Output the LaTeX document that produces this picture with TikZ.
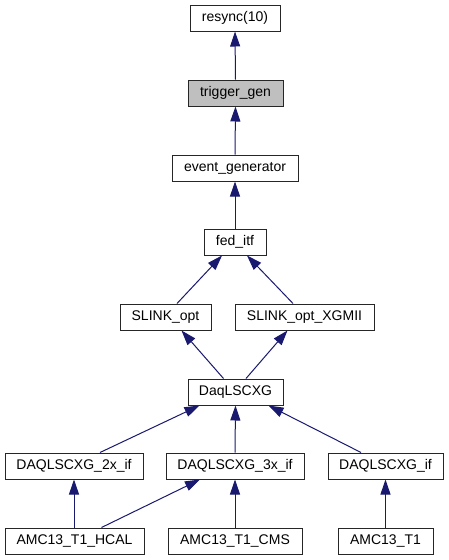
\documentclass[tikz,border=0pt]{standalone}
\usepackage{fontspec}
\setmainfont{Liberation Sans}
\usetikzlibrary{arrows.meta}
\definecolor{edgeblue}{HTML}{191970}
\definecolor{boxgray}{HTML}{BFBFBF}
\tikzset{
  cls/.style={draw=black!85, line width=1pt, fill=white, minimum height=26pt, inner sep=0pt,
    font=\fontsize{14}{16}\selectfont, text height=10pt, text depth=3pt},
  cur/.style={cls, fill=boxgray},
  inh/.style={draw=edgeblue, line width=1pt,
    {Triangle[length=15pt,width=10pt,fill=edgeblue]}-},
}
\begin{document}
\begin{tikzpicture}[x=1pt,y=-1pt]
\useasboundingbox (0,0) rectangle (449,560);
\node[cls, minimum width=90pt] (resync) at (235,18) {resync(10)};
\node[cur, minimum width=95pt] (trig) at (235.5,93) {trigger\_gen};
\node[cls, minimum width=126pt] (evg) at (235,168) {event\_generator};
\node[cls, minimum width=62pt] (fed) at (235,242) {fed\_itf};
\node[cls, minimum width=91pt] (sopt) at (165.5,317) {SLINK\_opt};
\node[cls, minimum width=139pt] (sxg) at (304.5,317) {SLINK\_opt\_XGMII};
\node[cls, minimum width=95pt] (daq) at (235.5,392) {DaqLSCXG};
\node[cls, minimum width=138pt] (d2x) at (74,466) {DAQLSCXG\_2x\_if};
\node[cls, minimum width=138pt] (d3x) at (235,466) {DAQLSCXG\_3x\_if};
\node[cls, minimum width=115pt] (dif) at (385.5,466) {DAQLSCXG\_if};
\node[cls, minimum width=139pt] (hcal) at (74.5,541) {AMC13\_T1\_HCAL};
\node[cls, minimum width=134pt] (cms) at (235,541) {AMC13\_T1\_CMS};
\node[cls, minimum width=95pt] (t1) at (385.5,541) {AMC13\_T1};

\draw[inh] (resync.south) -- (trig.north);
\draw[inh] (trig.south) -- (evg.north);
\draw[inh] (evg.south) -- (fed.north);
\draw[inh] ([xshift=-13pt]fed.south) -- ([xshift=11.5pt]sopt.north);
\draw[inh] ([xshift=12pt]fed.south) -- ([xshift=-11.5pt]sxg.north);
\draw[inh] ([xshift=16pt]sopt.south) -- ([xshift=-12pt]daq.north);
\draw[inh] ([xshift=-17pt]sxg.south) -- ([xshift=10.5pt]daq.north);
\draw[inh] ([xshift=-36pt]daq.south) -- ([xshift=26pt]d2x.north);
\draw[inh] (daq.south) -- (d3x.north);
\draw[inh] ([xshift=33pt]daq.south) -- ([xshift=-24.5pt]dif.north);
\draw[inh] (d2x.south) -- (hcal.north -| d2x.south);
\draw[inh] ([xshift=-35pt]d3x.south) -- ([xshift=27pt]hcal.north);
\draw[inh] (d3x.south) -- (cms.north);
\draw[inh] (dif.south) -- (t1.north);
\end{tikzpicture}
\end{document}
